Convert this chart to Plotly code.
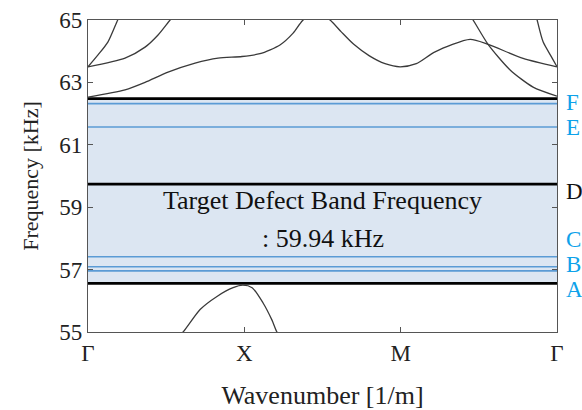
import plotly.graph_objects as go

# ---- data ----
k_ticks = [0, 1, 2, 3]
k_labels = ["Γ", "X", "M", "Γ"]
freq_ticks = [55, 57, 59, 61, 63, 65]

# band branches (x in path units, y in kHz)
b1_x = [0, 0.237, 0.365, 0.512, 0.685, 0.832, 0.985, 1.10, 1.228, 1.312, 1.376, 1.46,
        1.548, 1.62, 1.70, 1.80, 1.90, 1.996, 2.10, 2.22, 2.444, 2.559, 2.783, 3.0]
b1_y = [62.53, 62.76, 63.0, 63.33, 63.62, 63.78, 63.83, 63.92, 64.2, 64.58, 65.0, 65.25,
        65.0, 64.62, 64.22, 63.85, 63.6, 63.5, 63.6, 63.98, 64.38, 64.22, 63.77, 63.5]
b2_x = [0, 0.237, 0.365, 0.448, 0.525, 0.56]
b2_y = [63.5, 63.78, 64.13, 64.52, 65.0, 65.2]
b3_x = [0, 0.064, 0.128, 0.19, 0.21]
b3_y = [63.5, 63.88, 64.3, 65.0, 65.2]
b4_x = [2.42, 2.463, 2.559, 2.70, 2.847, 3.0]
b4_y = [65.3, 65.0, 64.22, 63.4, 62.85, 62.56]
b5_x = [2.86, 2.873, 2.911, 2.969, 3.0]
b5_y = [65.3, 65.0, 64.3, 63.78, 63.5]
b6_x = [0.58, 0.608, 0.717, 0.825, 0.928, 0.99, 1.05, 1.12, 1.177, 1.209, 1.23]
b6_y = [54.9, 55.0, 55.72, 56.14, 56.42, 56.5, 56.42, 55.93, 55.38, 55.0, 54.9]
branches = [(b1_x, b1_y), (b2_x, b2_y), (b3_x, b3_y), (b4_x, b4_y), (b5_x, b5_y), (b6_x, b6_y)]

band_lo, band_hi = 56.56, 62.48
black_lines = [56.56, 59.74, 62.48]
blue_lines = [56.96, 57.09, 57.41, 61.57, 62.32]
mode_labels = ["F", "E", "D", "C", "B", "A"]
mode_label_y = [62.35, 61.57, 59.49, 57.95, 57.15, 56.35]
mode_label_color = ["#0ea2ea", "#0ea2ea", "#111111", "#0ea2ea", "#0ea2ea", "#0ea2ea"]
note_lines = ["Target Defect Band Frequency", ": 59.94 kHz"]
note_y = [59.2, 58.0]

FONT = "Liberation Serif, Times New Roman, serif"

fig = go.Figure()

# shaded band gap
fig.add_trace(go.Scatter(x=[0, 3, 3, 0, 0], y=[band_lo, band_lo, band_hi, band_hi, band_lo],
                         fill="toself", fillcolor="#dce6f2", line=dict(width=0),
                         mode="lines", hoverinfo="skip", showlegend=False))

for yv in blue_lines:
    fig.add_trace(go.Scatter(x=[0, 3], y=[yv, yv], mode="lines",
                             line=dict(color="#5b9bd5", width=1.6), showlegend=False))
for yv in black_lines:
    fig.add_trace(go.Scatter(x=[0, 3], y=[yv, yv], mode="lines",
                             line=dict(color="#000000", width=2.6), showlegend=False))

for bx, by in branches:
    fig.add_trace(go.Scatter(x=bx, y=by, mode="lines",
                             line=dict(color="#3a3a3a", width=1.3, shape="spline", smoothing=0.7),
                             showlegend=False))

for lab, yv, col in zip(mode_labels, mode_label_y, mode_label_color):
    fig.add_annotation(x=1, xref="paper", y=yv, yref="y", text=lab, showarrow=False,
                       xanchor="left", xshift=7, font=dict(family=FONT, size=23, color=col))

for txt, yv in zip(note_lines, note_y):
    fig.add_annotation(x=1.5, y=yv, xref="x", yref="y", showarrow=False, text=txt,
                       font=dict(family=FONT, size=26, color="#111111"), align="center")

axis_common = dict(showline=True, linecolor="#555555", linewidth=1.3, mirror="ticks",
                   ticks="inside", ticklen=5, tickcolor="#555555", showgrid=False,
                   zeroline=False, automargin=False,
                   tickfont=dict(family=FONT, size=23, color="#222222"))

fig.update_xaxes(range=[0, 3], tickvals=k_ticks, ticktext=k_labels,
                 title_text="Wavenumber [1/m]", title_standoff=22,
                 title_font=dict(family=FONT, size=26, color="#222222"), **axis_common)
fig.update_yaxes(range=[55, 65], tickvals=freq_ticks,
                 title_text="Frequency [kHz]", title_standoff=14,
                 title_font=dict(family=FONT, size=22, color="#222222"), **axis_common)

fig.update_layout(width=582, height=410, margin=dict(l=88, r=25, t=20, b=78),
                  plot_bgcolor="white", paper_bgcolor="white", showlegend=False)

fig.write_html("out.html")
